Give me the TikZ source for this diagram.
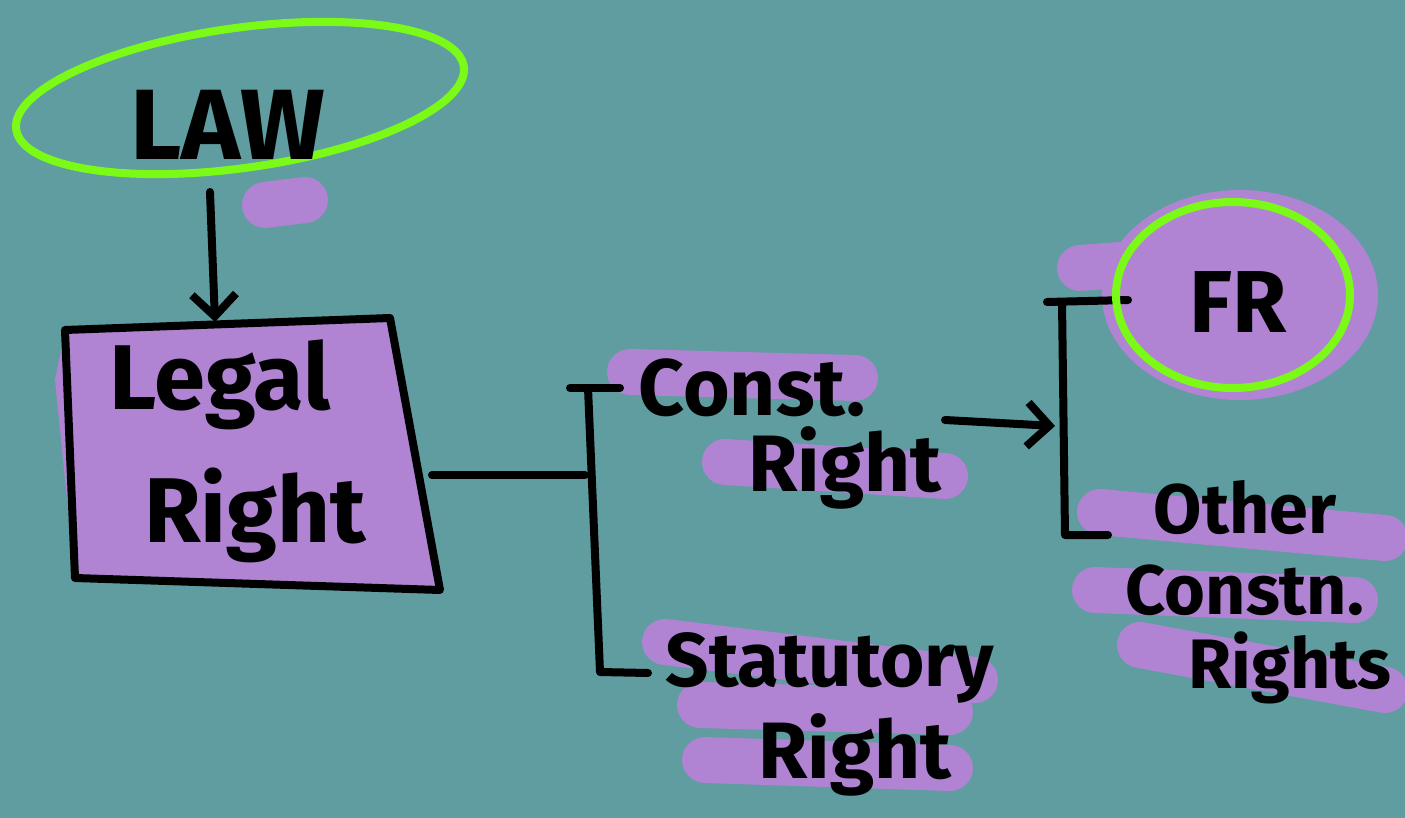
\documentclass[tikz,border=0pt]{standalone}
\usepackage{fontspec}
\setmainfont{Fira Sans}
\usetikzlibrary{arrows.meta}
\definecolor{bg}{RGB}{95,157,160}
\definecolor{hl}{RGB}{176,132,210}
\definecolor{gr}{RGB}{122,250,22}
\tikzset{
  ink/.style={draw=black,line width=8pt,line cap=round,line join=round},
  mark hl/.style={draw=hl,line width=46pt,line cap=round},
  ring/.style={draw=gr,line width=8pt},
  txt/.style={text=black,inner sep=0pt,font=\fontsize{#1}{#1}\selectfont\bfseries},
  openhead/.style={-{Straight Barb[length=22pt,width=44pt,line width=8pt]}}
}
\begin{document}
\begin{tikzpicture}[x=1pt,y=-1pt]
\fill[bg] (0,0) rectangle (1405,818);
\useasboundingbox (0,0) rectangle (1405,818);
% highlights
\draw[mark hl] (265,205) -- (305,200);
\draw[mark hl] (630,372) -- (855,378);
\draw[mark hl] (725,462) -- (945,476);
\draw[mark hl] (665,642) -- (975,680);
\draw[mark hl] (700,705) -- (950,712);
\draw[mark hl] (705,760) -- (950,768);
\fill[hl] (1240,295) ellipse (138 and 105);
\draw[mark hl] (1080,268) -- (1160,262);
\draw[mark hl] (1100,512) -- (1385,538);
\draw[mark hl] (1095,590) -- (1355,600);
\draw[mark hl] (1140,645) -- (1385,690);
% Legal right box
\fill[hl] (55,380) -- (65,330) -- (390,318) -- (440,590) -- (75,578) -- cycle;
\coordinate (b1) at (65,330);
\coordinate (b2) at (390,318);
\coordinate (b3) at (440,590);
\coordinate (b4) at (75,578);
\draw[ink] (b1) -- (b2) -- (b3) -- (b4) -- cycle;
\coordinate (boxtop) at (215,322);
\coordinate (boxright) at (432,475);
\node[txt=92] (legal) at (220,385) {Legal};
\node[txt=92] (right1) at (255,515) {Right};
% LAW
\draw[ring,rotate around={8:(240,98)}] (240,98) ellipse (226 and 70);
\node[txt=100] (law) at (228,125) {LAW};
\coordinate (lawbottom) at (210,192);
\draw[ink,openhead] (lawbottom) -- (boxtop);
% first bracket
\coordinate (j1) at (585,475);
\coordinate (t1a) at (570,388);
\coordinate (t1b) at (588,388);
\coordinate (t1c) at (620,388);
\coordinate (u1a) at (600,672);
\coordinate (u1b) at (648,673);
\draw[ink] (boxright) -- (j1);
\draw[ink] (t1a) -- (t1c);
\draw[ink] (t1b) -- (u1a) -- (u1b);
\node[txt=80] (const) at (752,388) {Const.};
\node[txt=80] (cright) at (845,468) {Right};
\node[txt=76] (stat) at (830,668) {Statutory};
\node[txt=80] (sright) at (855,755) {Right};
% arrow to second bracket
\coordinate (a1) at (945,420);
\coordinate (a2) at (1055,426);
\draw[ink,openhead] (a1) -- (a2);
\coordinate (t2a) at (1047,302);
\coordinate (t2b) at (1062,302);
\coordinate (t2c) at (1128,300);
\coordinate (u2a) at (1065,535);
\coordinate (u2b) at (1108,535);
\draw[ink] (t2a) -- (t2c);
\draw[ink] (t2b) -- (u2a) -- (u2b);
% FR
\draw[ring] (1233,295) ellipse (117 and 93);
\node[txt=88] (fr) at (1238,302) {FR};
\node[txt=70] (other) at (1245,508) {Other};
\node[txt=70] (constn) at (1245,590) {Constn.};
\node[txt=70] (rights) at (1290,668) {Rights};
\end{tikzpicture}
\end{document}
